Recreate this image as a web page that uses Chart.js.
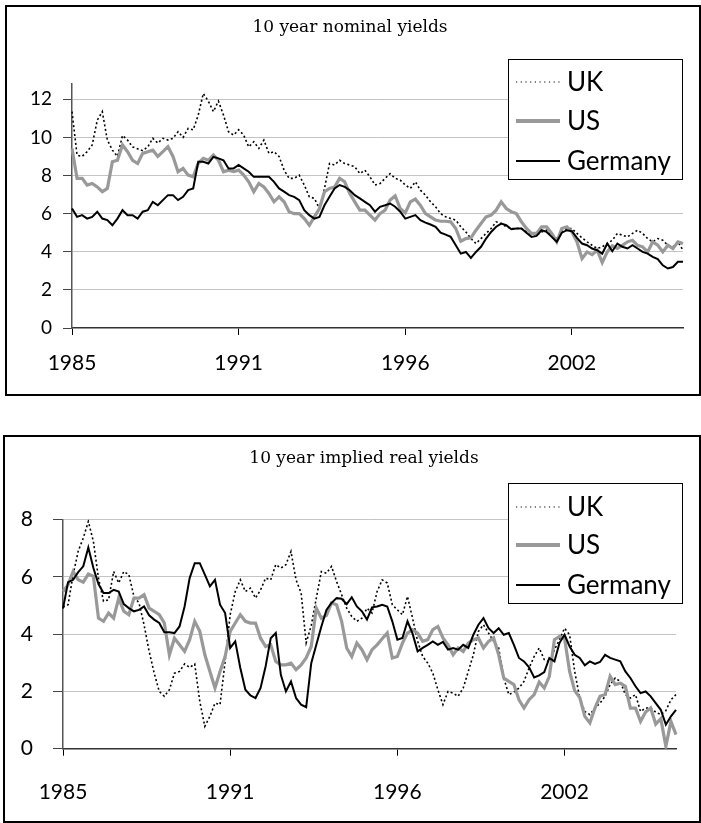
<!DOCTYPE html>
<html>
<head>
<meta charset="utf-8">
<script src="https://cdn.jsdelivr.net/npm/chart.js@4.4.1/dist/chart.umd.min.js"></script>
<style>
body { margin: 0; background: #fff; }
.frame { position: absolute; border: 2px solid #000; box-sizing: border-box; }
#f1 { left: 5px; top: 5px; width: 696px; height: 391px; }
#f2 { left: 3px; top: 435px; width: 698px; height: 388px; }
canvas { position: absolute; }
#nominal { left: 6px; top: 6px; }
#real { left: 4px; top: 436px; }
</style>
</head>
<body>
<div class="frame" id="f1"></div>
<div class="frame" id="f2"></div>
<canvas id="nominal" width="694" height="389"></canvas>
<canvas id="real" width="696" height="386"></canvas>
<script>
// bimonthly observations, Jan 1985 .. Mar 2005
const months = [];
for (let i = 0; i < 122; i++) {
    const m = i * 2;
    months.push((1985 + Math.floor(m / 12)) + '-' + String(m % 12 + 1).padStart(2, '0'));
}
const tickIndex = [0, 33, 66, 99];
const tickLabels = ['1985', '1991', '1996', '2002'];

const nominalTicks = [0, 2, 4, 6, 8, 10, 12];
const realTicks = [0, 2, 4, 6, 8];

// 10 year nominal yields
const nominalUK = [11.35, 9.07, 9.0, 9.25, 9.6, 10.9, 11.35, 9.86, 9.33, 9.0,
    10.1, 9.86, 9.5, 9.4, 9.3, 9.5, 9.95, 9.7, 9.95, 9.86,
    9.95, 10.3, 10.0, 10.47, 10.4, 11.17, 12.3, 11.9, 11.35, 11.9,
    11.17, 10.3, 10.12, 10.4, 10.12, 9.5, 9.77, 9.42, 9.86, 9.16,
    9.25, 9.0, 8.28, 7.85, 7.85, 8.02, 7.5, 6.88, 6.8, 6.27,
    7.32, 8.63, 8.55, 8.8, 8.63, 8.55, 8.46, 8.1, 8.28, 7.93,
    7.5, 7.58, 7.85, 8.1, 7.85, 7.76, 7.5, 7.32, 7.67, 7.23,
    6.97, 6.62, 6.36, 6.0, 5.83, 5.74, 5.66, 5.31, 5.04, 4.69,
    4.43, 4.69, 4.96, 5.22, 5.57, 5.48, 5.31, 5.22, 5.22, 5.22,
    5.04, 4.96, 4.87, 5.04, 5.13, 4.87, 4.69, 5.04, 5.22, 5.22,
    4.96, 4.73, 4.52, 4.34, 4.17, 4.26, 4.43, 4.6, 4.96, 4.87,
    4.78, 4.96, 5.13, 4.96, 4.69, 4.52, 4.69, 4.6, 4.34, 4.26,
    4.52, 4.08];
const nominalUS = [9.42, 7.85, 7.85, 7.5, 7.58, 7.4, 7.15, 7.32, 8.72, 8.8,
    9.6, 9.25, 8.8, 8.63, 9.16, 9.25, 9.33, 9.0, 9.25, 9.51,
    9.0, 8.2, 8.37, 8.02, 7.93, 8.63, 8.9, 8.8, 9.07, 8.8,
    8.2, 8.28, 8.2, 8.28, 8.02, 7.67, 7.15, 7.58, 7.4, 7.06,
    6.62, 6.88, 6.62, 6.1, 6.0, 6.0, 5.74, 5.39, 5.83, 6.27,
    7.15, 7.32, 7.4, 7.85, 7.67, 7.06, 6.62, 6.18, 6.18, 5.92,
    5.66, 6.0, 6.18, 6.71, 6.93, 6.27, 6.04, 6.62, 6.76, 6.43,
    6.0, 5.83, 5.66, 5.6, 5.6, 5.57, 5.22, 4.55, 4.69, 4.73,
    5.13, 5.48, 5.83, 5.92, 6.18, 6.62, 6.27, 6.1, 6.0, 5.57,
    5.22, 4.96, 4.96, 5.31, 5.31, 4.96, 4.52, 5.22, 5.31, 5.04,
    4.52, 3.64, 3.99, 3.85, 4.08, 3.43, 3.99, 4.31, 4.17, 4.34,
    4.52, 4.6, 4.34, 4.26, 3.99, 4.52, 4.34, 3.99, 4.34, 4.17,
    4.52, 4.43];
const nominalDE = [6.27, 5.83, 5.92, 5.74, 5.83, 6.1, 5.74, 5.66, 5.39, 5.74,
    6.18, 5.92, 5.92, 5.74, 6.1, 6.18, 6.62, 6.44, 6.71, 6.97,
    6.97, 6.71, 6.88, 7.23, 7.32, 8.72, 8.72, 8.63, 8.98, 8.9,
    8.8, 8.37, 8.37, 8.55, 8.37, 8.2, 7.93, 7.93, 7.93, 7.93,
    7.67, 7.32, 7.15, 6.97, 6.88, 6.71, 6.18, 5.92, 5.74, 5.83,
    6.44, 6.88, 7.32, 7.5, 7.4, 7.23, 6.97, 6.8, 6.62, 6.44,
    6.1, 6.36, 6.44, 6.53, 6.36, 6.1, 5.74, 5.83, 5.92, 5.66,
    5.53, 5.43, 5.31, 5.0, 4.9, 4.78, 4.34, 3.9, 3.99, 3.68,
    3.99, 4.26, 4.69, 5.04, 5.31, 5.48, 5.39, 5.18, 5.22, 5.22,
    5.0, 4.78, 4.83, 5.13, 5.04, 4.78, 4.52, 5.0, 5.13, 5.08,
    4.73, 4.43, 4.34, 4.17, 4.08, 3.9, 4.43, 4.03, 4.43, 4.26,
    4.17, 4.34, 4.17, 3.99, 3.9, 3.73, 3.61, 3.29, 3.12, 3.2,
    3.47, 3.47];

// 10 year implied real yields
const realUK = [4.95, 5.03, 6.08, 6.9, 7.36, 7.94, 7.24, 5.96, 5.15, 5.2,
    6.19, 5.79, 6.19, 6.08, 5.32, 5.09, 4.33, 3.4, 2.64, 2.0,
    1.83, 2.06, 2.64, 2.7, 2.96, 2.84, 2.96, 1.65, 0.78, 1.13,
    1.59, 1.54, 3.05, 4.68, 5.49, 5.9, 5.49, 5.61, 5.26, 5.55,
    5.96, 5.9, 6.43, 6.31, 6.43, 6.89, 5.9, 5.44, 3.7, 4.3,
    5.26, 6.19, 6.13, 6.37, 5.84, 5.38, 4.91, 4.62, 4.45, 4.56,
    4.91, 4.74, 5.49, 5.9, 5.79, 5.03, 4.85, 4.68, 5.32, 4.56,
    3.75, 3.22, 2.99, 2.64, 2.06, 1.54, 2.0, 1.94, 1.83, 2.12,
    2.7, 3.28, 4.1, 4.33, 4.04, 3.75, 3.52, 2.47, 1.89, 1.98,
    2.12, 2.35, 2.82, 3.22, 3.52, 3.11, 3.03, 3.46, 3.81, 4.21,
    3.98, 2.7, 1.77, 1.3, 1.19, 1.42, 1.59, 1.83, 2.24, 2.47,
    2.35, 1.89, 1.77, 1.89, 1.3, 1.42, 1.42, 1.28, 1.19, 1.33,
    1.71, 1.89];
const realUS = [5.49, 5.73, 6.19, 5.9, 5.82, 6.1, 6.02, 4.56, 4.45, 4.74,
    4.56, 5.26, 4.8, 4.68, 5.26, 5.26, 5.38, 4.91, 4.8, 4.68,
    4.39, 3.28, 3.86, 3.63, 3.4, 3.81, 4.45, 4.1, 3.28, 2.7,
    2.12, 2.7, 3.22, 4.1, 4.39, 4.68, 4.45, 4.39, 4.39, 3.86,
    3.57, 3.63, 3.05, 2.93, 2.93, 2.99, 2.76, 2.93, 3.17, 3.57,
    4.91, 4.56, 4.66, 5.09, 5.03, 4.45, 3.52, 3.22, 3.69, 3.46,
    3.11, 3.46, 3.63, 3.84, 4.04, 3.17, 3.22, 3.69, 4.04, 4.16,
    4.04, 3.75, 3.81, 4.16, 4.27, 3.87, 3.63, 3.28, 3.52, 3.4,
    3.69, 3.81, 3.87, 3.52, 3.75, 3.87, 3.28, 2.47, 2.35, 2.24,
    1.71, 1.42, 1.71, 1.89, 2.33, 2.12, 2.53, 3.81, 3.92, 3.87,
    2.7, 2.03, 1.79, 1.13, 0.9, 1.42, 1.83, 1.89, 2.53, 2.24,
    2.29, 2.18, 1.42, 1.42, 0.95, 1.28, 1.42, 0.86, 1.05, 0.08,
    0.95, 0.49];
const realDE = [4.9, 5.82, 5.9, 6.17, 6.37, 7.03, 6.31, 5.75, 5.44, 5.44,
    5.55, 5.49, 5.05, 4.91, 4.8, 4.85, 4.97, 4.66, 4.51, 4.39,
    4.07, 4.07, 4.04, 4.27, 4.97, 5.96, 6.48, 6.48, 6.08, 5.67,
    5.9, 5.03, 4.74, 3.52, 3.75, 2.82, 2.06, 1.86, 1.77, 2.12,
    2.88, 3.86, 4.04, 2.58, 2.0, 2.35, 1.77, 1.54, 1.45, 2.99,
    3.63, 4.27, 4.85, 5.09, 5.26, 5.24, 5.05, 5.29, 4.97, 4.8,
    4.51, 4.94, 4.97, 5.03, 4.97, 4.45, 3.81, 3.87, 4.45, 4.02,
    3.4, 3.52, 3.63, 3.75, 3.63, 3.73, 3.46, 3.52, 3.46, 3.63,
    3.52, 3.98, 4.33, 4.56, 4.21, 4.04, 4.21, 3.98, 4.04, 3.63,
    3.17, 3.05, 2.84, 2.49, 2.56, 2.68, 3.17, 3.05, 3.69, 3.98,
    3.57, 3.28, 3.17, 2.91, 3.05, 2.96, 3.03, 3.28, 3.17, 3.11,
    3.05, 2.7, 2.47, 2.18, 1.94, 2.0, 1.83, 1.59, 1.36, 0.84,
    1.13, 1.36];

// title and boxed legend, placed like the original
const decor = {
    id: 'decor',
    afterDraw(chart, args, opts) {
        const ctx = chart.ctx;
        ctx.save();
        ctx.fillStyle = '#000';
        ctx.font = '17px "DejaVu Serif"';
        ctx.textAlign = 'center';
        ctx.textBaseline = 'middle';
        ctx.fillText(opts.title, opts.titleX, opts.titleY);

        const x = opts.x, y = opts.y;
        ctx.fillStyle = '#fff';
        ctx.fillRect(x, y, 174, 120);
        ctx.strokeStyle = '#000';
        ctx.lineWidth = 1;
        ctx.strokeRect(x + 0.5, y + 0.5, 174, 120);
        ctx.font = '26px Lato';
        ctx.textAlign = 'left';
        chart.data.datasets.forEach((ds, i) => {
            const ry = y + opts.rows[i];
            ctx.beginPath();
            ctx.setLineDash(ds.legendDash || ds.borderDash || []);
            ctx.strokeStyle = ds.borderColor;
            ctx.lineWidth = ds.legendWidth || ds.borderWidth;
            ctx.moveTo(x + 8, ry);
            ctx.lineTo(x + 52, ry);
            ctx.stroke();
            ctx.setLineDash([]);
            ctx.fillStyle = '#000';
            ctx.fillText(ds.label, x + 59, ry + 1);
        });
        ctx.restore();
    }
};

function makeChart(id, o) {
    return new Chart(document.getElementById(id), {
        type: 'line',
        data: {
            labels: months,
            datasets: [
                { label: 'UK', data: o.uk, borderColor: '#000', borderWidth: 1.6, borderDash: [2, 2.5],
                  legendWidth: 1, legendDash: [1.2, 3.5], order: 3 },
                { label: 'US', data: o.us, borderColor: '#999', borderWidth: 3.2, legendWidth: 4, order: 2 },
                { label: 'Germany', data: o.de, borderColor: '#000', borderWidth: 2, order: 1 }
            ]
        },
        options: {
            responsive: false,
            animation: false,
            layout: { padding: { left: 0, right: o.padRight, top: o.padTop, bottom: 0 } },
            elements: { point: { radius: 0 }, line: { tension: 0 } },
            plugins: {
                legend: { display: false },
                tooltip: { enabled: false },
                title: { display: false },
                decor: o.decor
            },
            scales: {
                x: {
                    type: 'category',
                    grid: { drawOnChartArea: false, tickLength: 7, tickColor: '#000' },
                    border: { color: '#333', width: 1.5 },
                    ticks: {
                        autoSkip: false, maxRotation: 0, padding: o.xPad, color: '#000',
                        font: { family: 'Lato', size: 21 },
                        callback: v => tickLabels[tickIndex.indexOf(v)]
                    },
                    afterBuildTicks: s => { s.ticks = tickIndex.map(v => ({ value: v })); },
                    afterFit: s => { s.height = o.xHeight; }
                },
                y: {
                    min: 0,
                    max: o.yMax,
                    grid: {
                        color: c => c.tick && c.tick.value === 0 ? 'rgba(0,0,0,0)' : '#c4c4c4',
                        tickLength: o.yTickLen,
                        tickColor: '#444'
                    },
                    border: { color: '#555', width: 1.5 },
                    ticks: { padding: o.yPad, color: '#000', font: { family: 'Lato', size: o.yFont } },
                    afterBuildTicks: s => { s.ticks = o.yTicks.map(v => ({ value: v })); },
                    afterFit: s => { s.width = o.yWidth; }
                }
            }
        },
        plugins: [decor]
    });
}

makeChart('nominal', {
    uk: nominalUK, us: nominalUS, de: nominalDE,
    yMax: 12.8, yTicks: nominalTicks,
    yWidth: 66, padRight: 17, padTop: 78,
    xHeight: 67, xPad: 16,
    yTickLen: 9, yPad: 11, yFont: 19,
    decor: { title: '10 year nominal yields', titleX: 344, titleY: 22, x: 502, y: 53, rows: [23, 62, 102] }
});

makeChart('real', {
    uk: realUK, us: realUS, de: realDE,
    yMax: 8, yTicks: realTicks,
    yWidth: 59, padRight: 24, padTop: 83.7,
    xHeight: 73.3, xPad: 24,
    yTickLen: 10, yPad: 20, yFont: 21,
    decor: { title: '10 year implied real yields', titleX: 360, titleY: 23, x: 504, y: 47, rows: [24, 62, 102] }
});
</script>
</body>
</html>
